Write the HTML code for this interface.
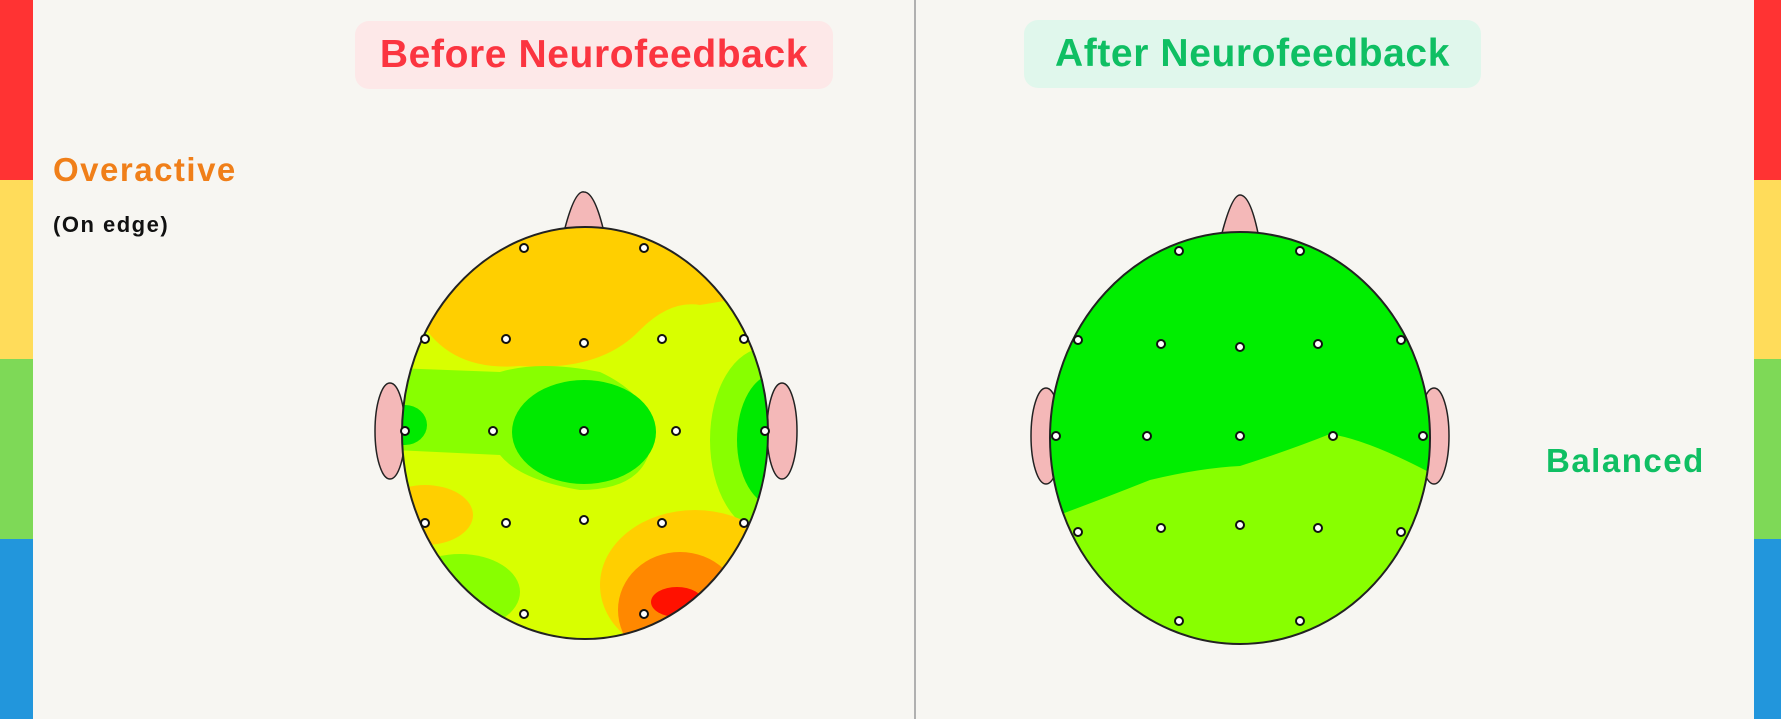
<!DOCTYPE html>
<html><head><meta charset="utf-8"><style>
html,body{margin:0;padding:0;width:1781px;height:719px;overflow:hidden;background:#f7f6f2;font-family:"Liberation Sans",sans-serif}
.abs{position:absolute}
</style></head><body>
<div class="abs" style="left:0;top:0;width:33px;height:180px;background:#ff3333"></div>
<div class="abs" style="left:0;top:180px;width:33px;height:179px;background:#ffdc5a"></div>
<div class="abs" style="left:0;top:359px;width:33px;height:180px;background:#7ed957"></div>
<div class="abs" style="left:0;top:539px;width:33px;height:180px;background:#2296dc"></div>
<div class="abs" style="left:1754px;top:0;width:27px;height:180px;background:#ff3333"></div>
<div class="abs" style="left:1754px;top:180px;width:27px;height:179px;background:#ffdc5a"></div>
<div class="abs" style="left:1754px;top:359px;width:27px;height:180px;background:#7ed957"></div>
<div class="abs" style="left:1754px;top:539px;width:27px;height:180px;background:#2296dc"></div>
<div class="abs" style="left:914px;top:0;width:2px;height:719px;background:#b0b0b0"></div>
<div class="abs" style="left:355px;top:21px;width:478px;height:68px;background:#fde8e8;border-radius:14px;color:#fb3540;font-weight:bold;font-size:39px;letter-spacing:0.6px;text-align:center;line-height:68px">Before Neurofeedback</div>
<div class="abs" style="left:1024px;top:20px;width:457px;height:68px;background:#e0f7ec;border-radius:14px;color:#0fbf63;font-weight:bold;font-size:39px;letter-spacing:0.6px;text-align:center;line-height:68px">After Neurofeedback</div>
<div class="abs" style="left:53px;top:151px;color:#f07f19;font-weight:bold;font-size:33px;letter-spacing:1.5px">Overactive</div>
<div class="abs" style="left:53px;top:212px;color:#111;font-weight:bold;font-size:22px;letter-spacing:1.5px">(On edge)</div>
<div class="abs" style="left:1546px;top:442px;color:#0fbf63;font-weight:bold;font-size:33px;letter-spacing:1.5px">Balanced</div>
<svg class="abs" style="left:0;top:0" width="1781" height="719">
<defs>
<clipPath id="c1"><ellipse cx="585" cy="433" rx="183" ry="206"/></clipPath>
<clipPath id="c2"><ellipse cx="1240" cy="438" rx="190" ry="206"/></clipPath>
</defs>
<g fill="#f4b8b8" stroke="#222" stroke-width="1.5">
<path d="M565 228 Q575 190 584 192 Q594 192 603 228 Z"/>
<ellipse cx="390" cy="431" rx="15" ry="48"/><ellipse cx="782" cy="431" rx="15" ry="48"/>
<path d="M1222 233 Q1232 195 1240 195 Q1250 195 1258 233 Z"/>
<ellipse cx="1046" cy="436" rx="15" ry="48"/><ellipse cx="1434" cy="436" rx="15" ry="48"/>
</g>
<g clip-path="url(#c1)">
<rect x="390" y="220" width="400" height="430" fill="#d8ff00"/>
<path d="M380 300 L420 320 Q450 372 520 366 Q600 372 640 330 Q670 300 700 305 L790 290 L790 200 L380 200 Z" fill="#ffcf00"/>
<path d="M395 368 L500 372 Q540 360 600 372 Q660 400 650 450 Q640 490 580 490 Q520 480 500 455 L395 450 Z" fill="#88ff00"/>
<ellipse cx="584" cy="432" rx="72" ry="52" fill="#00ea00"/>
<ellipse cx="405" cy="425" rx="22" ry="20" fill="#00ea00"/>
<ellipse cx="765" cy="440" rx="55" ry="92" fill="#88ff00"/>
<ellipse cx="775" cy="440" rx="38" ry="66" fill="#00ea00"/>
<ellipse cx="425" cy="515" rx="48" ry="30" fill="#ffcf00"/>
<ellipse cx="460" cy="592" rx="60" ry="38" fill="#88ff00"/>
<ellipse cx="695" cy="585" rx="95" ry="75" fill="#ffcf00"/>
<ellipse cx="680" cy="610" rx="62" ry="58" fill="#ff8800"/>
<ellipse cx="677" cy="602" rx="26" ry="15" fill="#ff1100"/>
</g>
<ellipse cx="585" cy="433" rx="183" ry="206" fill="none" stroke="#222" stroke-width="2"/>
<g clip-path="url(#c2)">
<rect x="1040" y="220" width="410" height="440" fill="#00ee00"/>
<path d="M1040 522 Q1100 500 1150 480 Q1200 468 1240 466 Q1290 450 1330 434 Q1370 440 1440 478 L1440 660 L1040 660 Z" fill="#88ff00"/>
</g>
<ellipse cx="1240" cy="438" rx="190" ry="206" fill="none" stroke="#222" stroke-width="2"/>
<g fill="#fff" stroke="#111" stroke-width="2">
<circle cx="524" cy="248" r="4"/><circle cx="644" cy="248" r="4"/>
<circle cx="425" cy="339" r="4"/><circle cx="506" cy="339" r="4"/><circle cx="584" cy="343" r="4"/><circle cx="662" cy="339" r="4"/><circle cx="744" cy="339" r="4"/>
<circle cx="405" cy="431" r="4"/><circle cx="493" cy="431" r="4"/><circle cx="584" cy="431" r="4"/><circle cx="676" cy="431" r="4"/><circle cx="765" cy="431" r="4"/>
<circle cx="425" cy="523" r="4"/><circle cx="506" cy="523" r="4"/><circle cx="584" cy="520" r="4"/><circle cx="662" cy="523" r="4"/><circle cx="744" cy="523" r="4"/>
<circle cx="524" cy="614" r="4"/><circle cx="644" cy="614" r="4"/>
<circle cx="1179" cy="251" r="4"/><circle cx="1300" cy="251" r="4"/>
<circle cx="1078" cy="340" r="4"/><circle cx="1161" cy="344" r="4"/><circle cx="1240" cy="347" r="4"/><circle cx="1318" cy="344" r="4"/><circle cx="1401" cy="340" r="4"/>
<circle cx="1056" cy="436" r="4"/><circle cx="1147" cy="436" r="4"/><circle cx="1240" cy="436" r="4"/><circle cx="1333" cy="436" r="4"/><circle cx="1423" cy="436" r="4"/>
<circle cx="1078" cy="532" r="4"/><circle cx="1161" cy="528" r="4"/><circle cx="1240" cy="525" r="4"/><circle cx="1318" cy="528" r="4"/><circle cx="1401" cy="532" r="4"/>
<circle cx="1179" cy="621" r="4"/><circle cx="1300" cy="621" r="4"/>
</g>
</svg>
</body></html>
